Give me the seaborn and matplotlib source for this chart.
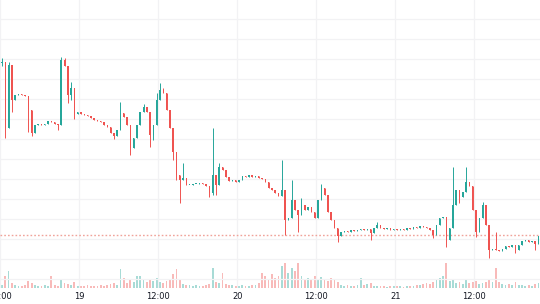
import matplotlib
matplotlib.use("Agg")
import matplotlib.pyplot as plt
import numpy as np
import pandas as pd
import seaborn as sns

# ---------------- data (30-minute candles, hours from 18th 12:00) ----------------
first_open = 236
closes = [237, 171, 234, 199, 204, 205, 204, 203, 189, 166,
          174, 175, 174, 175, 178, 177, 175, 174, 239, 233,
          204, 211, 185, 187, 185, 184, 183, 181, 179, 178,
          177, 174, 172, 166, 163, 169, 186, 182, 174, 151,
          161, 174, 187, 192, 187, 164, 174, 199, 209, 206,
          189, 171, 147, 124, 119, 121, 114, 114, 115, 115,
          116, 115, 113, 106, 124, 114, 132, 129, 122, 118,
          119, 117, 119, 123, 122, 124, 122, 123, 121, 120,
          117, 111, 109, 106, 103, 109, 79, 81, 99, 89,
          84, 94, 89, 92, 87, 81, 99, 111, 104, 87,
          79, 71, 63, 67, 68, 67, 69, 68, 69, 70,
          69, 70, 66, 71, 74, 71, 70, 71, 69, 70,
          69, 70, 69, 71, 70, 72, 71, 73, 72, 71,
          69, 64, 74, 81, 82, 59, 71, 94, 109, 102,
          107, 117, 113, 89, 67, 81, 94, 74, 49, 50,
          49, 48, 50, 53, 52, 54, 49, 54, 58, 59,
          57, 58, 55, 63]

wick_highs = {0: 241, 2: 237, 18: 242, 19: 241, 21: 217, 36: 197, 43: 195,
              47: 206, 48: 216, 49: 211, 55: 136, 64: 171, 66: 136, 85: 139,
              88: 119, 91: 101, 97: 115, 114: 77, 137: 132, 141: 132, 146: 97,
              150: 67}
wick_lows = {0: 233, 1: 161, 3: 187, 8: 167, 9: 163, 17: 169, 20: 196, 21: 199,
             22: 180, 34: 160, 39: 144, 45: 152, 46: 159, 52: 139, 53: 119,
             54: 96, 63: 102, 64: 104, 65: 104, 86: 64, 90: 67, 102: 57,
             112: 59, 131: 61, 135: 52, 139: 96, 144: 62, 148: 41, 156: 46,
             162: 49}

volumes = [3, 12, 17, 5, 3, 2, 2, 3, 7, 5,
           3, 2, 2, 3, 2, 12, 3, 2, 9, 5,
           4, 3, 6, 2, 2, 2, 3, 2, 2, 2,
           3, 2, 3, 4, 5, 3, 19, 10, 5, 8,
           6, 12, 12, 8, 6, 9, 7, 10, 6, 5,
           7, 9, 14, 19, 8, 4, 3, 3, 2, 3,
           2, 2, 3, 4, 20, 6, 5, 15, 4, 3,
           3, 2, 2, 3, 2, 2, 3, 3, 5, 15,
           12, 8, 14, 10, 12, 22, 25, 15, 20, 17,
           25, 12, 8, 10, 9, 12, 8, 11, 9, 7,
           10, 8, 6, 3, 2, 3, 2, 2, 3, 10,
           3, 4, 5, 2, 2, 2, 2, 1, 2, 2,
           2, 2, 1, 2, 2, 2, 3, 3, 4, 5,
           4, 6, 8, 10, 12, 25, 7, 8, 5, 6,
           4, 8, 5, 6, 7, 4, 5, 6, 8, 6,
           20, 6, 4, 3, 4, 3, 6, 3, 3, 2,
           3, 2, 4, 5]

tick_hours = [0, 12, 24, 36, 48, 60, 72]
tick_labels = ["12:00", "19", "12:00", "20", "12:00", "21", "12:00"]

# ---------------- build table ----------------
n = len(closes)
opens = [first_open] + closes[:-1]
times = [0.5 * k + 0.25 for k in range(n)]
highs = [wick_highs.get(k, max(opens[k], closes[k])) for k in range(n)]
lows = [wick_lows.get(k, min(opens[k], closes[k])) for k in range(n)]
direction = ["up" if c >= o else "down" for o, c in zip(opens, closes)]
df = pd.DataFrame({"t": times, "open": opens, "close": closes, "high": highs,
                   "low": lows, "vol": volumes, "dir": direction})

UP = "#26a69a"
DOWN = "#ef5350"
GRID = "#f2f2f4"

sns.set_theme(style="white")
plt.rcParams["font.family"] = ["DejaVu Sans"]

fig = plt.figure(figsize=(5.4, 3.04), dpi=100)
fig.patch.set_facecolor("white")
ax = fig.add_axes([0, 16 / 304, 1, 288 / 304])
ax2 = ax.twinx()

# volume (behind candles)
sns.barplot(data=df, x="t", y="vol", hue="dir", palette={"up": UP, "down": DOWN},
            native_scale=True, dodge=False, saturation=1, alpha=0.4,
            width=0.55, legend=False, ax=ax2, linewidth=0)
ax2.set_ylim(0, 288)
ax2.set_yticks([])
ax2.set_ylabel("")
ax2.set_xlabel("")

ax.set_zorder(ax2.get_zorder() + 1)
ax.patch.set_visible(False)

# candles
for _, r in df.iterrows():
    col = UP if r["dir"] == "up" else DOWN
    ax.vlines(r["t"], r["low"], r["high"], color=col, lw=0.7, zorder=3)
    body = max(abs(r["close"] - r["open"]), 0.7)
    ax.bar(r["t"], body, bottom=min(r["open"], r["close"]), width=0.22,
           color=col, linewidth=0, zorder=4)

# last price line
ax.axhline(closes[-1] + 1, color="#f0a39a", lw=1.0, ls=(0, (1.2, 1.5)), zorder=2)

ax.set_ylim(11, 299)
ax.set_yticks(range(20, 300, 20))
ax.set_yticklabels([])
ax.tick_params(axis="y", length=0)
ax.set_xlim(-0.05, 81.98)
ax2.set_xlim(-0.05, 81.98)
ax.set_xticks(tick_hours)
ax.set_xticklabels(tick_labels)
ax.tick_params(axis="x", length=0, pad=3, labelsize=6, colors="#131722")
ax2.tick_params(axis="x", length=0, labelbottom=False)
ax.grid(True, color=GRID, lw=0.9)
ax.set_axisbelow(True)
for a in (ax, ax2):
    for s in a.spines.values():
        s.set_visible(False)

fig.savefig("out.png", dpi=100, facecolor="white")
